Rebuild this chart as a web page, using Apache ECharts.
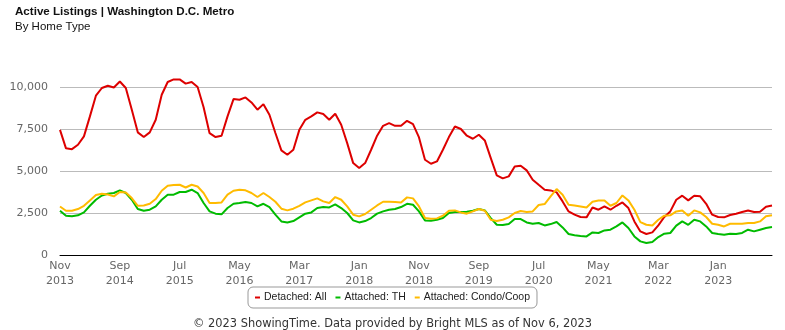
<!DOCTYPE html>
<html>
<head>
<meta charset="utf-8">
<script src="https://cdn.jsdelivr.net/npm/echarts@6/dist/echarts.min.js"></script>
<style>
html,body{margin:0;padding:0;background:#fff;}
#chart{width:785px;height:330px;}
</style>
</head>
<body>
<div id="chart"></div>
<script>
// Months Nov 2013 .. Oct 2023
const monthNames = ['Jan','Feb','Mar','Apr','May','Jun','Jul','Aug','Sep','Oct','Nov','Dec'];
const startYear = 2013, startMonth = 10, monthCount = 120;
const categories = [];
for (let i = 0; i < monthCount; i++) {
  const m = (startMonth + i) % 12;
  const y = startYear + Math.floor((startMonth + i) / 12);
  categories.push(monthNames[m] + '\n' + y);
}

const seriesNames = ['Detached: All', 'Attached: TH', 'Attached: Condo/Coop'];

const detachedAll = [
  7450,6350,6300,6560,7060,8250,9480,9940,10075,9975,
  10330,9940,8650,7300,7020,7300,8050,9540,10300,10450,
  10450,10200,10300,10000,8800,7250,7020,7100,8250,9280,
  9240,9380,9080,8650,8980,8350,7260,6225,5970,6265,
  7450,8050,8250,8490,8390,8050,8410,7750,6660,5470,
  5175,5470,6265,7100,7690,7850,7690,7690,7990,7790,
  7000,5670,5430,5570,6265,7020,7650,7500,7100,6920,
  7160,6820,5770,4740,4560,4680,5270,5310,5035,4480,
  4180,3885,3845,3725,3190,2595,2400,2260,2240,2830,
  2695,2890,2695,2930,3130,2795,2000,1405,1250,1345,
  1760,2260,2595,3290,3530,3250,3530,3490,3050,2400,
  2260,2240,2380,2460,2560,2650,2560,2575,2875,2950
];

const attachedTH = [
  2635,2340,2300,2360,2535,2930,3290,3545,3650,3690,
  3845,3690,3290,2735,2635,2695,2890,3290,3590,3590,
  3750,3750,3885,3690,3095,2595,2460,2420,2795,3050,
  3095,3155,3095,2890,3050,2855,2400,2000,1940,2020,
  2240,2460,2535,2795,2855,2830,3010,2795,2500,2060,
  1940,2020,2200,2460,2595,2695,2735,2855,3050,2990,
  2595,2060,2040,2100,2200,2500,2560,2560,2575,2635,
  2735,2655,2200,1800,1780,1840,2140,2140,1940,1860,
  1905,1760,1840,1960,1640,1250,1170,1130,1105,1345,
  1310,1465,1505,1700,1940,1605,1105,810,715,775,
  1070,1270,1310,1745,2000,1800,2100,2000,1700,1310,
  1250,1210,1270,1250,1310,1505,1405,1505,1605,1665
];

const attachedCondo = [
  2890,2635,2635,2735,2930,3250,3570,3650,3605,3490,
  3750,3725,3390,2930,2950,3050,3330,3825,4120,4165,
  4180,4020,4180,4080,3690,3095,3095,3130,3590,3825,
  3885,3850,3690,3450,3690,3450,3170,2755,2655,2755,
  2930,3130,3250,3370,3190,3095,3450,3290,2890,2400,
  2300,2440,2695,2950,3170,3170,3150,3130,3430,3370,
  2890,2200,2160,2180,2340,2635,2655,2535,2460,2595,
  2735,2635,2100,2020,2100,2240,2500,2615,2560,2595,
  2975,3035,3490,3925,3590,2990,2950,2890,2830,3170,
  3250,3250,2930,3095,3545,3250,2695,1960,1800,1760,
  2100,2340,2360,2595,2655,2340,2655,2535,2260,1860,
  1800,1700,1860,1860,1860,1905,1905,2000,2300,2360
];

const colors = ['#dd0000', '#00bb00', '#ffbb00'];
const titleText = 'Active Listings | Washington D.C. Metro';
const subtitleText = 'By Home Type';
const footerText = '\u00a9 2023 ShowingTime. Data provided by Bright MLS as of Nov 6, 2023';

const chart = echarts.init(document.getElementById('chart'), null, {renderer: 'canvas'});
const dataSets = [detachedAll, attachedTH, attachedCondo];

chart.setOption({
  animation: false,
  backgroundColor: '#fff',
  title: [
    {text: titleText, left: 10, top: 1,
     textStyle: {fontFamily: 'Liberation Sans', fontSize: 11.6, fontWeight: 'bold', color: '#111'}},
    {text: subtitleText, left: 10, top: 16,
     textStyle: {fontFamily: 'Liberation Sans', fontSize: 11.5, fontWeight: 'normal', color: '#111'}},
    {text: footerText, left: 'center', top: 314,
     textStyle: {fontFamily: 'DejaVu Sans', fontSize: 11.4, fontWeight: 'normal', color: '#333'}}
  ],
  legend: {
    data: seriesNames,
    left: 'center', top: 287,
    icon: 'rect', itemWidth: 5, itemHeight: 2, itemGap: 9,
    borderColor: '#999', borderWidth: 1, borderRadius: 5,
    padding: [5, 7, 5, 7],
    textStyle: {fontFamily: 'Liberation Sans', fontSize: 10.5, color: '#222', padding: [0, 0, 0, -1]}
  },
  grid: {left: 60, right: 13, top: 87, bottom: 75},
  xAxis: {
    type: 'category',
    data: categories,
    boundaryGap: false,
    offset: 2,
    axisLine: {lineStyle: {color: '#000', width: 1}},
    axisTick: {show: false},
    axisLabel: {interval: 9, fontFamily: 'DejaVu Sans', fontSize: 11, color: '#666', lineHeight: 15, margin: 2},
    splitLine: {show: false}
  },
  yAxis: {
    type: 'value',
    min: 0, max: 10000, interval: 2500,
    axisLine: {show: false},
    axisTick: {show: false},
    axisLabel: {fontFamily: 'DejaVu Sans', fontSize: 11, color: '#666', margin: 12,
      formatter: v => v.toLocaleString('en-US')},
    splitLine: {lineStyle: {color: ['#000', '#bbb', '#bbb', '#bbb', '#bbb'], width: 1}}
  },
  series: seriesNames.map((name, k) => ({
    name: name,
    type: 'line',
    data: dataSets[k],
    symbol: 'none',
    clip: false,
    lineStyle: {color: colors[k], width: 2},
    itemStyle: {color: colors[k]}
  }))
});
</script>
</body>
</html>
